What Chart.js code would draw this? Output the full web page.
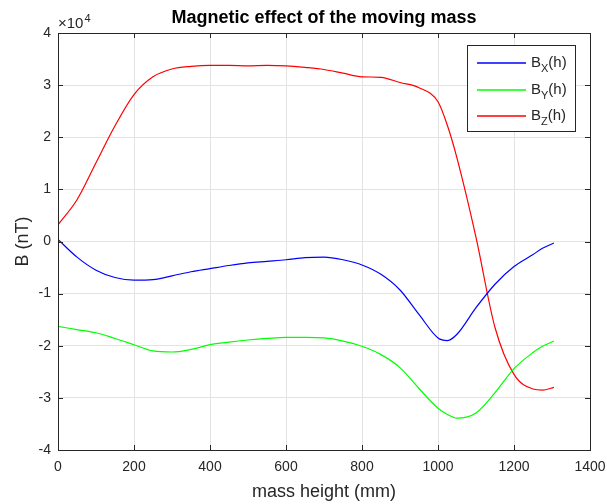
<!DOCTYPE html>
<html>
<head>
<meta charset="utf-8">
<script src="https://cdn.jsdelivr.net/npm/chart.js@4/dist/chart.umd.min.js"></script>
<style>
  html, body { margin: 0; padding: 0; background: #fff; }
  #wrap { width: 607px; height: 504px; }
</style>
</head>
<body>
<div id="wrap"><canvas id="c" width="607" height="504"></canvas></div>
<script>
// mass height (mm)
const heights = [0, 50, 100, 150, 200, 250, 300, 350, 400, 450, 500, 550, 600, 650, 700, 750, 800, 850, 900, 950, 1000, 1025, 1050, 1100, 1150, 1200, 1250, 1275, 1305];
// field values in units of 1e4 nT
const bx = [0.04, -0.30, -0.55, -0.69, -0.74, -0.73, -0.66, -0.58, -0.52, -0.46, -0.41, -0.38, -0.35, -0.31, -0.30, -0.35, -0.45, -0.63, -0.93, -1.40, -1.85, -1.90, -1.78, -1.27, -0.82, -0.48, -0.25, -0.13, -0.03];
const by = [-1.63, -1.69, -1.75, -1.86, -1.98, -2.10, -2.12, -2.07, -1.98, -1.93, -1.89, -1.86, -1.84, -1.84, -1.85, -1.91, -2.01, -2.17, -2.42, -2.82, -3.20, -3.32, -3.39, -3.29, -2.90, -2.44, -2.13, -2.01, -1.91];
const bz = [0.32, 0.80, 1.51, 2.22, 2.82, 3.16, 3.31, 3.36, 3.38, 3.38, 3.37, 3.38, 3.37, 3.34, 3.30, 3.23, 3.16, 3.15, 3.05, 2.95, 2.68, 2.22, 1.60, 0.08, -1.65, -2.55, -2.83, -2.85, -2.80];
const seriesNames = ['X', 'Y', 'Z'];
const seriesColors = ['#0000ff', '#00ff00', '#ff0000'];
const xTicks = [0, 200, 400, 600, 800, 1000, 1200, 1400];
const yTicks = [-4, -3, -2, -1, 0, 1, 2, 3, 4];

function pts(vals) {
  return heights.map((h, i) => ({ x: h, y: vals[i] * 1e4 }));
}

const AX = '#262626';
const FONT = 'Liberation Sans, Arial, Helvetica, sans-serif';

// MATLAB-like decorations: box, inward ticks, title, exponent, legend
const matlabStyle = {
  id: 'matlabStyle',
  afterDraw(chart) {
    const ctx = chart.ctx;
    const a = chart.chartArea;
    const xs = chart.scales.x, ys = chart.scales.y;
    ctx.save();
    ctx.strokeStyle = AX;
    ctx.lineWidth = 1;
    ctx.strokeRect(Math.round(a.left) + 0.5, Math.round(a.top) + 0.5, Math.round(a.right - a.left), Math.round(a.bottom - a.top));
    ctx.beginPath();
    xTicks.forEach(v => {
      const px = Math.round(xs.getPixelForValue(v)) + 0.5;
      ctx.moveTo(px, a.bottom); ctx.lineTo(px, a.bottom - 5);
      ctx.moveTo(px, a.top); ctx.lineTo(px, a.top + 5);
    });
    yTicks.forEach(v => {
      const py = Math.round(ys.getPixelForValue(v * 1e4)) + 0.5;
      ctx.moveTo(a.left, py); ctx.lineTo(a.left + 5, py);
      ctx.moveTo(a.right, py); ctx.lineTo(a.right - 5, py);
    });
    ctx.stroke();

    // title
    ctx.fillStyle = '#000';
    ctx.font = 'bold 18px ' + FONT;
    ctx.textAlign = 'center';
    ctx.textBaseline = 'alphabetic';
    ctx.fillText('Magnetic effect of the moving mass', (a.left + a.right) / 2, 23);

    // exponent
    ctx.fillStyle = AX;
    ctx.textAlign = 'left';
    ctx.font = '15px ' + FONT;
    ctx.fillText('\u00d710', a.left, 28);
    const ew = ctx.measureText('\u00d710').width;
    ctx.font = '11px ' + FONT;
    ctx.fillText('4', a.left + ew + 1, 22);

    // legend
    const lx = 467, ly = 45, lw = 108, lh = 86;
    ctx.fillStyle = '#fff';
    ctx.fillRect(lx, ly, lw, lh);
    ctx.strokeStyle = AX;
    ctx.lineWidth = 1;
    ctx.strokeRect(lx + 0.5, ly + 0.5, lw, lh);
    seriesNames.forEach((n, i) => {
      const y = Math.round(63 + i * 26.5);
      ctx.strokeStyle = seriesColors[i];
      ctx.lineWidth = 1.6;
      ctx.beginPath();
      ctx.moveTo(477, y); ctx.lineTo(526, y);
      ctx.stroke();
      ctx.fillStyle = AX;
      ctx.textBaseline = 'middle';
      ctx.font = '15px ' + FONT;
      ctx.fillText('B', 531, y);
      const bw = ctx.measureText('B').width;
      ctx.font = '11px ' + FONT;
      ctx.fillText(n, 531 + bw, y + 6);
      const sw = ctx.measureText(n).width;
      ctx.font = '15px ' + FONT;
      ctx.fillText('(h)', 531 + bw + sw, y);
    });
    ctx.restore();
  }
};

const ctx = document.getElementById('c').getContext('2d');
const chart = new Chart(ctx, {
  type: 'line',
  data: {
    datasets: [bx, by, bz].map((vals, i) => ({
      label: 'B' + seriesNames[i] + '(h)',
      data: pts(vals),
      borderColor: seriesColors[i],
      borderWidth: 1.2,
      pointRadius: 0,
      cubicInterpolationMode: 'monotone',
      fill: false
    }))
  },
  options: {
    responsive: false,
    animation: false,
    layout: { padding: { left: 0, right: 17, top: 33, bottom: 0 } },
    plugins: { legend: { display: false }, tooltip: { enabled: false } },
    scales: {
      x: {
        type: 'linear',
        min: 0, max: 1400,
        afterFit(s) { s.height = 54; s.paddingRight = 0; s.paddingLeft = 0; },
        afterBuildTicks(s) { s.ticks = xTicks.map(v => ({ value: v })); },
        grid: { color: '#e3e3e3', tickLength: 0, drawTicks: false },
        border: { color: AX },
        ticks: { color: AX, font: { family: FONT, size: 14 }, padding: 9, maxRotation: 0, callback: v => String(v) },
        title: { display: true, text: 'mass height (mm)', color: AX, font: { family: FONT, size: 18 }, padding: { top: 0, bottom: 1 } }
      },
      y: {
        type: 'linear',
        min: -40000, max: 40000,
        afterFit(s) { s.width = 58; s.paddingTop = 0; s.paddingBottom = 0; },
        afterBuildTicks(s) { s.ticks = yTicks.map(v => ({ value: v * 1e4 })); },
        grid: { color: '#e3e3e3', tickLength: 0, drawTicks: false },
        border: { color: AX },
        ticks: { color: AX, font: { family: FONT, size: 14 }, padding: 7, callback: v => String(v / 1e4) },
        title: { display: true, text: 'B (nT)', color: AX, font: { family: FONT, size: 18 }, padding: { top: 12, bottom: 0 } }
      }
    }
  },
  plugins: [matlabStyle]
});
</script>
</body>
</html>
